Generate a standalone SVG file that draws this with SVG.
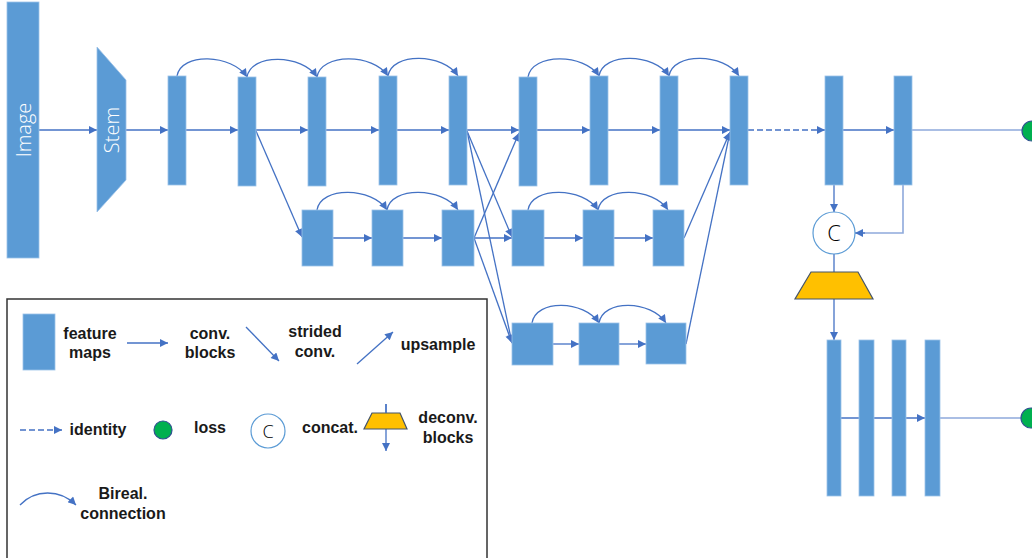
<svg xmlns="http://www.w3.org/2000/svg" width="1032" height="558" viewBox="0 0 1032 558">
<style>
.fm{fill:#5B9BD5;stroke:#9CC2E8;stroke-width:0.8}
.ln{fill:none;stroke:#4472C4;stroke-width:1.3}
.lt{fill:none;stroke:#8EA9DB;stroke-width:1.6}
.dash{fill:none;stroke:#4472C4;stroke-width:1.3;stroke-dasharray:6 3}
.lbl{font-family:"Liberation Sans",Arial,sans-serif;font-weight:bold;font-size:16px;fill:#1a1a1a;text-anchor:middle}
.wt{font-family:"Open Sans","Liberation Sans",sans-serif;font-weight:300;font-size:20px;fill:#ffffff;text-anchor:middle}
.ct{font-family:"Open Sans","Liberation Sans",sans-serif;font-weight:300;fill:#000;text-anchor:middle}
.loss{fill:#00B050;stroke:#2F528F;stroke-width:1.2}
.cc{fill:#fff;stroke:#5B9BD5;stroke-width:1.2}
.dec{fill:#FFC000;stroke:#44546A;stroke-width:1.2}
</style>
<defs>
<marker id="ah" viewBox="0 0 10 10" refX="10" refY="5" markerWidth="9" markerHeight="8" markerUnits="userSpaceOnUse" orient="auto">
<path d="M0,0 L10,5 L0,10 z" fill="#4472C4"/>
</marker>
</defs>

<g id="connectors">
<line class="ln" x1="39" y1="130" x2="97" y2="130" marker-end="url(#ah)"/>
<line class="ln" x1="126" y1="130" x2="168" y2="130" marker-end="url(#ah)"/>
<line class="ln" x1="186" y1="130" x2="238" y2="130" marker-end="url(#ah)"/>
<line class="ln" x1="256" y1="130" x2="308" y2="130" marker-end="url(#ah)"/>
<line class="ln" x1="326" y1="130" x2="379" y2="130" marker-end="url(#ah)"/>
<line class="ln" x1="397" y1="130" x2="449" y2="130" marker-end="url(#ah)"/>
<line class="ln" x1="467" y1="130" x2="519" y2="130" marker-end="url(#ah)"/>
<line class="ln" x1="537" y1="130" x2="590" y2="130" marker-end="url(#ah)"/>
<line class="ln" x1="608" y1="130" x2="660" y2="130" marker-end="url(#ah)"/>
<line class="ln" x1="678" y1="130" x2="730" y2="130" marker-end="url(#ah)"/>
<line class="ln" x1="333" y1="238" x2="372" y2="238" marker-end="url(#ah)"/>
<line class="ln" x1="403" y1="238" x2="442" y2="238" marker-end="url(#ah)"/>
<line class="ln" x1="474" y1="238" x2="512" y2="238" marker-end="url(#ah)"/>
<line class="ln" x1="544" y1="238" x2="583" y2="238" marker-end="url(#ah)"/>
<line class="ln" x1="614" y1="238" x2="653" y2="238" marker-end="url(#ah)"/>
<line class="ln" x1="553" y1="344" x2="579" y2="344" marker-end="url(#ah)"/>
<line class="ln" x1="619" y1="344" x2="646" y2="344" marker-end="url(#ah)"/>
<line class="ln" x1="256" y1="131" x2="302" y2="237" marker-end="url(#ah)"/>
<line class="ln" x1="467" y1="131" x2="512" y2="237" marker-end="url(#ah)"/>
<line class="ln" x1="467" y1="131" x2="512" y2="343" marker-end="url(#ah)"/>
<line class="ln" x1="474" y1="238" x2="512" y2="343" marker-end="url(#ah)"/>
<line class="ln" x1="474" y1="238" x2="519" y2="133" marker-end="url(#ah)"/>
<line class="ln" x1="684" y1="238" x2="730" y2="132" marker-end="url(#ah)"/>
<line class="ln" x1="686" y1="344" x2="730" y2="132" marker-end="url(#ah)"/>
<path class="ln" d="M177,76 C181,52 232,54 247,77" marker-end="url(#ah)"/>
<path class="ln" d="M247,77 C251,53 302,54 317,77" marker-end="url(#ah)"/>
<path class="ln" d="M317,77 C321,53 373,53 388,76" marker-end="url(#ah)"/>
<path class="ln" d="M388,76 C392,52 443,53 458,76" marker-end="url(#ah)"/>
<path class="ln" d="M528,77 C532,53 584,53 599,76" marker-end="url(#ah)"/>
<path class="ln" d="M599,76 C603,52 654,53 669,76" marker-end="url(#ah)"/>
<path class="ln" d="M669,76 C673,52 724,53 739,76" marker-end="url(#ah)"/>
<path class="ln" d="M317,210 C321,186 372,187 387,210" marker-end="url(#ah)"/>
<path class="ln" d="M387,210 C391,186 443,187 458,210" marker-end="url(#ah)"/>
<path class="ln" d="M528,210 C532,186 583,187 598,210" marker-end="url(#ah)"/>
<path class="ln" d="M598,210 C602,186 653,187 668,210" marker-end="url(#ah)"/>
<path class="ln" d="M532,323 C536,299 584,300 599,323" marker-end="url(#ah)"/>
<path class="ln" d="M599,323 C603,299 651,300 666,323" marker-end="url(#ah)"/>
<line class="dash" x1="748" y1="130" x2="825" y2="130" marker-end="url(#ah)"/>
<line class="ln" x1="843" y1="130" x2="894" y2="130" marker-end="url(#ah)"/>
<line class="lt" x1="912" y1="130" x2="1022" y2="130"/>
<line class="ln" x1="834" y1="185" x2="834" y2="212" marker-end="url(#ah)"/>
<polyline class="lt" points="903,185 903,233 862,233"/>
<line class="ln" x1="865" y1="233" x2="855" y2="233" marker-end="url(#ah)"/>
<line class="ln" x1="834" y1="254" x2="834" y2="272"/>
<line class="ln" x1="834" y1="299" x2="834" y2="340" marker-end="url(#ah)"/>
<line class="ln" x1="841" y1="418" x2="925" y2="418" marker-end="url(#ah)"/>
<line class="lt" x1="940" y1="418" x2="1022" y2="418"/>
</g>

<g id="image"><rect class="fm" x="7" y="2" width="32" height="256"/>
<text class="wt" x="31" y="130" transform="rotate(-90 31 130)">Image</text></g>
<g id="stem"><polygon class="fm" points="97,47 126,80 126,180 97,212"/>
<text class="wt" x="119" y="130" transform="rotate(-90 119 130)">Stem</text></g>

<g id="r1"><rect class="fm" x="168" y="76" width="18" height="109"/></g>
<g id="r2"><rect class="fm" x="238" y="77" width="18" height="109"/></g>
<g id="r3"><rect class="fm" x="308" y="77" width="18" height="109"/></g>
<g id="r4"><rect class="fm" x="379" y="76" width="18" height="109"/></g>
<g id="r5"><rect class="fm" x="449" y="76" width="18" height="109"/></g>
<g id="r6"><rect class="fm" x="519" y="77" width="18" height="109"/></g>
<g id="r7"><rect class="fm" x="590" y="76" width="18" height="109"/></g>
<g id="r8"><rect class="fm" x="660" y="76" width="18" height="109"/></g>
<g id="r9"><rect class="fm" x="730" y="76" width="18" height="109"/></g>

<g id="m1"><rect class="fm" x="302" y="210" width="31" height="56"/></g>
<g id="m2"><rect class="fm" x="372" y="210" width="31" height="56"/></g>
<g id="m3"><rect class="fm" x="442" y="210" width="32" height="56"/></g>
<g id="m4"><rect class="fm" x="512" y="210" width="32" height="56"/></g>
<g id="m5"><rect class="fm" x="583" y="210" width="31" height="56"/></g>
<g id="m6"><rect class="fm" x="653" y="210" width="31" height="56"/></g>

<g id="s1"><rect class="fm" x="512" y="323" width="41" height="42"/></g>
<g id="s2"><rect class="fm" x="579" y="323" width="40" height="42"/></g>
<g id="s3"><rect class="fm" x="646" y="323" width="40" height="41"/></g>

<g id="h1"><rect class="fm" x="825" y="76" width="18" height="109"/></g>
<g id="h2"><rect class="fm" x="894" y="76" width="18" height="109"/></g>
<g id="loss1"><circle class="loss" cx="1032" cy="131" r="10"/></g>
<g id="concat"><circle class="cc" cx="834" cy="233" r="21"/>
<text class="ct" x="834" y="241" font-size="22">C</text></g>
<g id="deconv"><polygon class="dec" points="811,272 858,272 873,299 795,299"/></g>

<g id="d1"><rect class="fm" x="827" y="340" width="14" height="156"/></g>
<g id="d2"><rect class="fm" x="859" y="340" width="15" height="156"/></g>
<g id="d3"><rect class="fm" x="892" y="340" width="14" height="156"/></g>
<g id="d4"><rect class="fm" x="925" y="340" width="15" height="156"/></g>
<g id="loss2"><circle class="loss" cx="1031" cy="418" r="10"/></g>

<g id="legend">
<rect x="7" y="299" width="480" height="275" fill="#fff" stroke="#333" stroke-width="1.5"/>
<rect class="fm" x="23" y="314" width="32" height="56"/>
<text class="lbl" x="90" y="339">feature</text>
<text class="lbl" x="90" y="358">maps</text>
<line class="ln" x1="127" y1="343" x2="168" y2="343" marker-end="url(#ah)"/>
<text class="lbl" x="210" y="339">conv.</text>
<text class="lbl" x="210" y="358">blocks</text>
<line class="ln" x1="246" y1="327" x2="279" y2="361" marker-end="url(#ah)"/>
<text class="lbl" x="315" y="337">strided</text>
<text class="lbl" x="315" y="357">conv.</text>
<line class="ln" x1="357" y1="364" x2="393" y2="332" marker-end="url(#ah)"/>
<text class="lbl" x="438" y="350">upsample</text>

<line class="dash" x1="20" y1="430" x2="62" y2="430" stroke="#6F95D6" marker-end="url(#ah)"/>
<text class="lbl" x="98" y="435">identity</text>
<circle class="loss" cx="163" cy="430" r="9"/>
<text class="lbl" x="210" y="433">loss</text>
<circle class="cc" cx="268" cy="431" r="17"/>
<text class="ct" x="268" y="438" font-size="18">C</text>
<text class="lbl" x="330" y="433">concat.</text>
<line class="ln" x1="386" y1="404" x2="386" y2="451" marker-end="url(#ah)"/>
<polygon class="dec" points="372,413 400,413 407,429 364,429"/>
<line class="ln" x1="386" y1="404" x2="386" y2="413"/>
<text class="lbl" x="448" y="423">deconv.</text>
<text class="lbl" x="448" y="443">blocks</text>

<path class="ln" d="M20,505 C35,489 60,489 76,505" marker-end="url(#ah)"/>
<text class="lbl" x="123" y="499">Bireal.</text>
<text class="lbl" x="123" y="519">connection</text>
</g>
</svg>
